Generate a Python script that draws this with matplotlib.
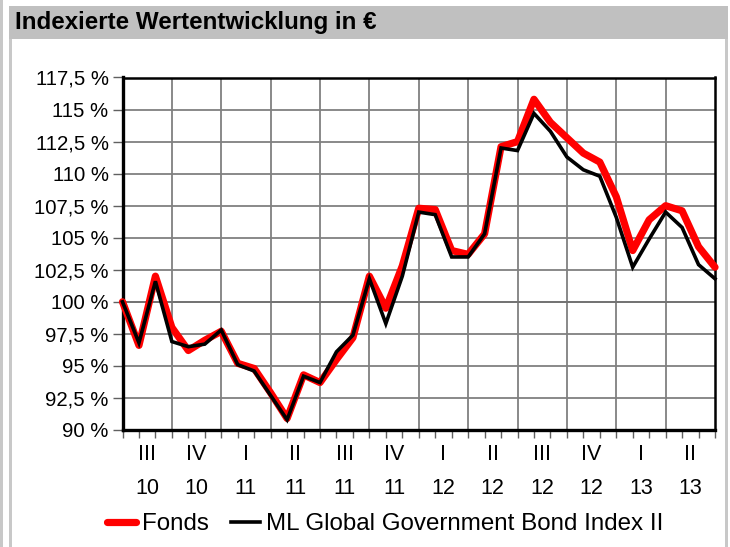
import numpy as np
import matplotlib
matplotlib.use("Agg")
import matplotlib.pyplot as plt
from matplotlib.patches import Rectangle
from matplotlib.lines import Line2D

plt.rcParams['font.family'] = ['Liberation Sans', 'DejaVu Sans']

# ---- data (monthly, end of June 2010 .. end of June 2013) ----
fonds = [100.0, 96.6, 102.0, 98.0, 96.2, 97.0, 97.7, 95.2, 94.8, 92.9, 90.9, 94.3,
         93.7, 95.5, 97.2, 102.0, 99.5, 102.8, 107.3, 107.2, 104.0, 103.7, 105.3, 112.1,
         112.5, 115.8, 114.0, 112.8, 111.6, 110.9, 108.2, 104.0, 106.4, 107.5, 107.1, 104.3,
         102.7]
index = [100.0, 96.8, 101.6, 96.9, 96.5, 96.7, 97.8, 95.1, 94.6, 92.7, 90.8, 94.2,
         93.7, 96.1, 97.4, 101.8, 98.3, 102.0, 107.0, 106.8, 103.5, 103.5, 105.3, 112.0,
         111.8, 114.7, 113.3, 111.3, 110.3, 109.8, 106.6, 102.7, 104.9, 107.0, 105.8, 102.9,
         101.8]
quarter_roman = ['III', 'IV', 'I', 'II', 'III', 'IV', 'I', 'II', 'III', 'IV', 'I', 'II']
quarter_year = ['10', '10', '11', '11', '11', '11', '12', '12', '12', '12', '13', '13']
y_ticks = [90, 92.5, 95, 97.5, 100, 102.5, 105, 107.5, 110, 112.5, 115, 117.5]
y_labels = ['90 %', '92,5 %', '95 %', '97,5 %', '100 %', '102,5 %', '105 %',
            '107,5 %', '110 %', '112,5 %', '115 %', '117,5 %']
series_names = ['Fonds', 'ML Global Government Bond Index II']

W, H = 730, 547
fig = plt.figure(figsize=(W / 100, H / 100), dpi=100)

def px(x, y):
    return x / W, 1 - y / H

# outer frame decorations
border = '#c8c8c8'
fig.patches.append(Rectangle((0, 0), 2.5 / W, 1, transform=fig.transFigure,
                             facecolor=border, edgecolor='none', zorder=0))
fig.patches.append(Rectangle((9 / W, 0), 3 / W, 1 - 38 / H, transform=fig.transFigure,
                             facecolor=border, edgecolor='none', zorder=0))
fig.patches.append(Rectangle((725 / W, 0), 3 / W, 1 - 38 / H, transform=fig.transFigure,
                             facecolor=border, edgecolor='none', zorder=0))
fig.patches.append(Rectangle(px(9, 38.5), 719 / W, 32.5 / H, transform=fig.transFigure,
                             facecolor='#c0c0c0', edgecolor='none', zorder=0))
fig.text(*px(15, 22), 'Indexierte Wertentwicklung in €', fontsize=17.4,
         fontweight='bold', va='center', ha='left')

# axes
l, r, t, b = 122.5, 715, 77.5, 430
ax = fig.add_axes([l / W, 1 - b / H, (r - l) / W, (b - t) / H])
n = len(fonds)
x = np.arange(n)
ax.set_xlim(0, n - 1)
ax.set_ylim(y_ticks[0], y_ticks[-1])

# grid
ax.set_yticks(y_ticks, y_labels)
ax.yaxis.grid(True, color='#808080', linewidth=1.3, zorder=1)
for q in range(3, n - 1, 3):
    ax.axvline(q, color='#808080', linewidth=1.3, zorder=1)
ax.axhline(100, color='black', linewidth=1.4, zorder=1.5)

ax.plot(x, fonds, color='#ff0000', linewidth=5.2, solid_joinstyle='round',
        solid_capstyle='round', zorder=3, clip_on=False, label=series_names[0])
ax.plot(x, index, color='black', linewidth=2.6, solid_joinstyle='miter',
        zorder=4, clip_on=False, label=series_names[1])

# x ticks
centers = np.arange(1.5, n - 1, 3)
ax.set_xticks(centers, [f'{rn}\n{yr}' for rn, yr in zip(quarter_roman, quarter_year)])
ax.set_xticks(x, minor=True)
ax.tick_params(axis='x', which='major', length=0, pad=10, labelsize=15.5)
ax.tick_params(axis='x', which='minor', length=6, width=1.0, color='#606060')
for lab in ax.get_xticklabels():
    lab.set_linespacing(1.8)
ax.tick_params(axis='y', which='major', length=7, width=1.0, color='#606060',
               labelsize=14.7, pad=3)

for s in ['left', 'bottom']:
    ax.spines[s].set_linewidth(2.4)
for s in ['top', 'right']:
    ax.spines[s].set_linewidth(1.8)

handles = [Line2D([], [], color='#ff0000', linewidth=5.2, solid_capstyle='round'),
           Line2D([], [], color='black', linewidth=2.6)]
fig.legend(handles, series_names, loc='center', bbox_to_anchor=px(385, 524),
           ncol=2, frameon=False, fontsize=17.4, handlelength=1.2,
           handletextpad=0.25, columnspacing=0.9)

fig.savefig('out.png', dpi=100)
